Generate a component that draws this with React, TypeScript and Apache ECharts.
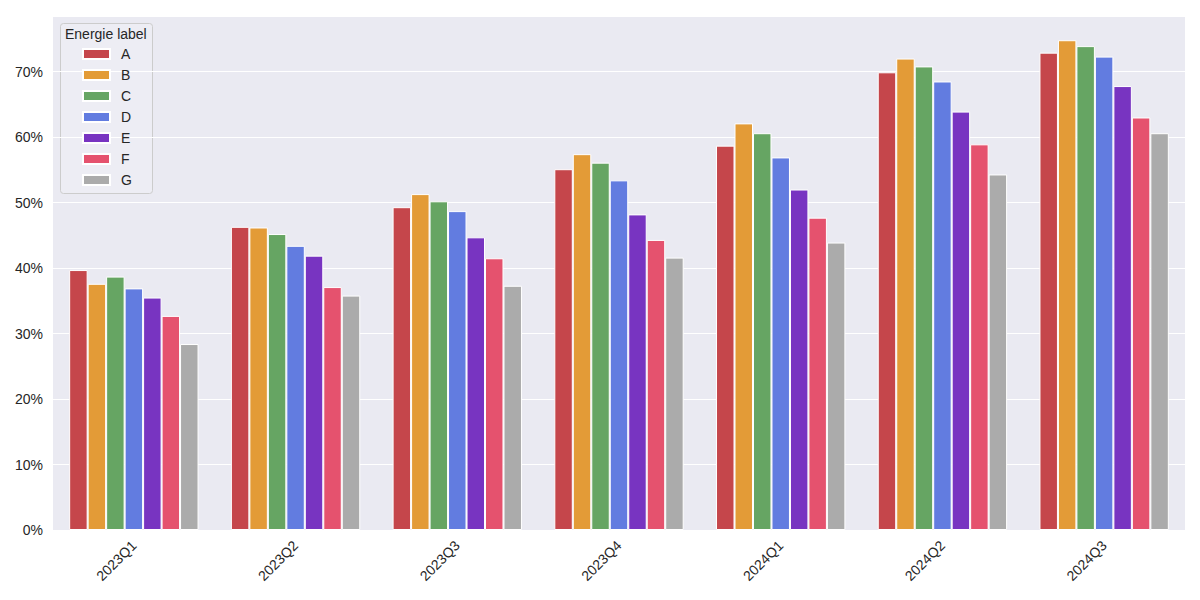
import React, { useEffect, useRef } from "react";
import * as echarts from "echarts";

const categories = ["2023Q1", "2023Q2", "2023Q3", "2023Q4", "2024Q1", "2024Q2", "2024Q3"];
const labels = ["A", "B", "C", "D", "E", "F", "G"];
const colors = ["#C5464B", "#E39B37", "#66A563", "#627CE0", "#7834C1", "#E5526E", "#ABABAB"];

const valuesA = [0.397, 0.463, 0.493, 0.551, 0.587, 0.699, 0.729];
const valuesB = [0.376, 0.462, 0.513, 0.574, 0.621, 0.720, 0.748];
const valuesC = [0.387, 0.452, 0.502, 0.561, 0.606, 0.708, 0.739];
const valuesD = [0.369, 0.434, 0.487, 0.534, 0.569, 0.685, 0.723];
const valuesE = [0.355, 0.419, 0.447, 0.482, 0.520, 0.639, 0.678];
const valuesF = [0.327, 0.371, 0.415, 0.443, 0.477, 0.589, 0.630];
const valuesG = [0.284, 0.358, 0.373, 0.416, 0.439, 0.543, 0.606];

const allValues = [valuesA, valuesB, valuesC, valuesD, valuesE, valuesF, valuesG];

const font = "Liberation Sans, Arial, sans-serif";

export default function App() {
  const ref = useRef<HTMLDivElement>(null);
  useEffect(() => {
    if (!ref.current) return;
    const chart = echarts.init(ref.current, undefined, { renderer: "svg" });
    chart.setOption({
      animation: false,
      backgroundColor: "#ffffff",
      textStyle: { fontFamily: font },
      grid: { left: 53, right: 15, top: 16, bottom: 70, show: true, backgroundColor: "#EAEAF2", borderWidth: 0 },
      xAxis: {
        type: "category",
        data: categories,
        axisLine: { show: false },
        axisTick: { show: false },
        axisLabel: { rotate: 45, fontSize: 14, color: "#262626", margin: 13, fontFamily: font },
      },
      yAxis: {
        type: "value",
        min: 0,
        max: 0.785,
        interval: 0.1,
        axisLine: { show: false },
        axisTick: { show: false },
        splitLine: { lineStyle: { color: "#ffffff", width: 1 } },
        axisLabel: {
          fontSize: 14,
          color: "#262626",
          margin: 10,
          showMaxLabel: false,
          fontFamily: font,
          formatter: (v: number) => `${Math.round(v * 100)}%`,
        },
      },
      legend: {
        orient: "vertical",
        left: 77,
        top: 42,
        itemWidth: 27,
        itemHeight: 10,
        itemGap: 7,
        icon: "rect",
        data: labels,
        textStyle: { fontSize: 14, color: "#262626", fontFamily: font, padding: [0, 0, 0, 6] },
      },
      graphic: [
        {
          type: "rect",
          left: 60,
          top: 23,
          shape: { width: 92, height: 170, r: 3 },
          style: { fill: "#EDEDF4", stroke: "#CCCCCC", lineWidth: 1 },
          z: 0,
        },
        {
          type: "text",
          left: 65,
          top: 27,
          style: { text: "Energie label", fontSize: 14, fill: "#262626", fontFamily: font },
          z: 1,
        },
      ],
      series: labels.map((name, i) => ({
        name,
        type: "bar",
        data: allValues[i],
        barGap: "0%",
        barCategoryGap: "20%",
        itemStyle: { color: colors[i], borderColor: "#ffffff", borderWidth: 1 },
      })),
    });
    return () => chart.dispose();
  }, []);
  return <div ref={ref} style={{ position: "fixed", left: 0, top: 0, width: 1200, height: 600 }} />;
}
